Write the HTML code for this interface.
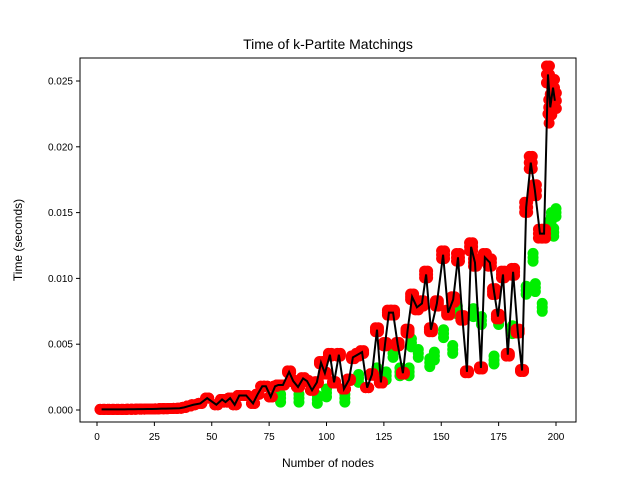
<!DOCTYPE html>
<html><head><meta charset="utf-8"><style>
body{margin:0;background:#fff;}
svg{font-family:"Liberation Sans","DejaVu Sans",sans-serif;}
</style></head><body>
<svg id="chart" width="640" height="480" xmlns="http://www.w3.org/2000/svg">
<rect width="640" height="480" fill="#fff"/>
<g id="marks"></g>
<g id="axes"></g>
<text x="328" y="49" text-anchor="middle" font-size="14">Time of k-Partite Matchings</text>
<text x="328" y="467" text-anchor="middle" font-size="12">Number of nodes</text>
<text x="22" y="240" text-anchor="middle" font-size="12" transform="rotate(-90 22 240)">Time (seconds)</text>
</svg>
<script>
const nodes=[2,4,6,8,10,12,14,16,18,20,22,24,26,28,30,32,34,36,38,40,42,45,48,52,54.5,56,58,60,62,65,68,70,72,73.6,75.7,77.6,79,81,83.7,85.5,87.6,89.8,91.5,93.7,95.8,97.6,99.3,101.5,103.3,105.4,107.6,109.8,111.5,113.5,115.5,117.7,119.8,122,123.7,125.5,127.2,129,131,133.3,135.3,137.3,139.4,141.6,143.4,145.5,148.1,150.8,153,155.2,157.3,159.2,161.2,163,164.7,167.3,169,171.2,173,174.7,176.9,179,181.3,183.3,185.2,187,189,190.8,193,194.8,196.5,197.5,198.7,199.5];
const redVals=[0.00005,0.00005,0.00005,0.00005,0.00005,0.00005,0.00006,0.00006,0.00007,0.00007,0.00008,0.00008,0.00009,0.0001,0.0001,0.00011,0.00012,0.00013,0.0002,0.0003,0.0004,0.0005,0.0009,0.0004,0.0008,0.0006,0.0009,0.0004,0.0011,0.0011,0.0005,0.0012,0.0018,0.0018,0.0010,0.0018,0.0019,0.0019,0.0029,0.0022,0.00175,0.0024,0.0022,0.0015,0.0021,0.0036,0.0028,0.0042,0.0021,0.0042,0.0016,0.0023,0.0040,0.0042,0.0044,0.0017,0.0027,0.0061,0.0021,0.0050,0.0074,0.0074,0.0050,0.0028,0.0060,0.0086,0.0078,0.0081,0.0103,0.0061,0.0081,0.0118,0.0074,0.0084,0.0116,0.0070,0.0029,0.0124,0.0112,0.0032,0.0116,0.0112,0.0090,0.0071,0.0103,0.0042,0.0105,0.0060,0.0030,0.0154,0.0188,0.0167,0.0134,0.0134,0.0255,0.0230,0.0245,0.0235];
const extraRedNodes=[196.5,197,197.5,198,198.5,199,199.5];
const extraRedVals=[0.0225,0.0218,0.0240,0.0232,0.0228,0.0245,0.0238];
const greenNodes=[80,88,96,100,108,114,122,126,129,132,136,137,140,145,147,151,155,157,164,167.5,173,175,181,187,191,194,190,198,199,197,200];
const greenVals=[0.0009,0.0009,0.0008,0.0013,0.0009,0.0024,0.0029,0.0026,0.0043,0.0029,0.0029,0.0051,0.0043,0.0036,0.0041,0.0058,0.0046,0.0076,0.0074,0.0068,0.0038,0.0068,0.0061,0.0091,0.0093,0.0078,0.0116,0.0147,0.0135,0.0140,0.0150];
const xTicks=[0,25,50,75,100,125,150,175,200];
const yTicks=[0,0.005,0.01,0.015,0.02,0.025];
const yTickLabels=["0.000","0.005","0.010","0.015","0.020","0.025"];
const L=80,R=576,T=58,B=422;
const xs=n=>97+n*2.295;
const ys=v=>410-v*13160;
const NS="http://www.w3.org/2000/svg";
const marks=document.getElementById('marks'),axes=document.getElementById('axes');
function mk(tag,attrs,parent){const e=document.createElementNS(NS,tag);for(const k in attrs)e.setAttribute(k,attrs[k]);parent.appendChild(e);return e;}
greenNodes.forEach((n,i)=>{[0,-0.0003,0.0003].forEach(d=>{
 const c=mk('circle',{cx:xs(n),cy:ys(greenVals[i]+d),r:5.5,fill:'#00ee00'},marks);
 
 
});});
nodes.forEach((n,i)=>{const v=redVals[i];const sp=v>0.002?v*0.025:0;
 [v-sp,v,v+sp].forEach(y=>{[-1.5,1.5].forEach(dx=>{
  const c=mk('circle',{cx:xs(n)+dx,cy:ys(y),r:5.5,fill:'#ff0000'},marks);
  
  
 });});
});
extraRedNodes.forEach((n,i)=>{
 const c=mk('circle',{cx:xs(n),cy:ys(extraRedVals[i]),r:5.5,fill:'#ff0000'},marks);
 
 
});
const line=mk('polyline',{points:nodes.map((n,i)=>xs(n)+','+ys(redVals[i])).join(' '),fill:'none',stroke:'#000','stroke-width':2},marks);


const frame=mk('rect',{x:L,y:T,width:R-L,height:B-T,fill:'none',stroke:'#000','stroke-width':1},axes);


xTicks.forEach(t=>{const x=xs(t);
 const tk=mk('line',{x1:x,x2:x,y1:B,y2:B+4,stroke:'#000'},axes);
 
 
 const tx=mk('text',{x:x,y:B+18,'text-anchor':'middle','font-size':10},axes);tx.textContent=t;
 
 
});
yTicks.forEach((t,i)=>{const y=ys(t);
 const tk=mk('line',{x1:L-4,x2:L,y1:y,y2:y,stroke:'#000'},axes);
 
 
 const tx=mk('text',{x:L-7,y:y+3.5,'text-anchor':'end','font-size':10},axes);tx.textContent=yTickLabels[i];
 
 
});
</script>
</body></html>
